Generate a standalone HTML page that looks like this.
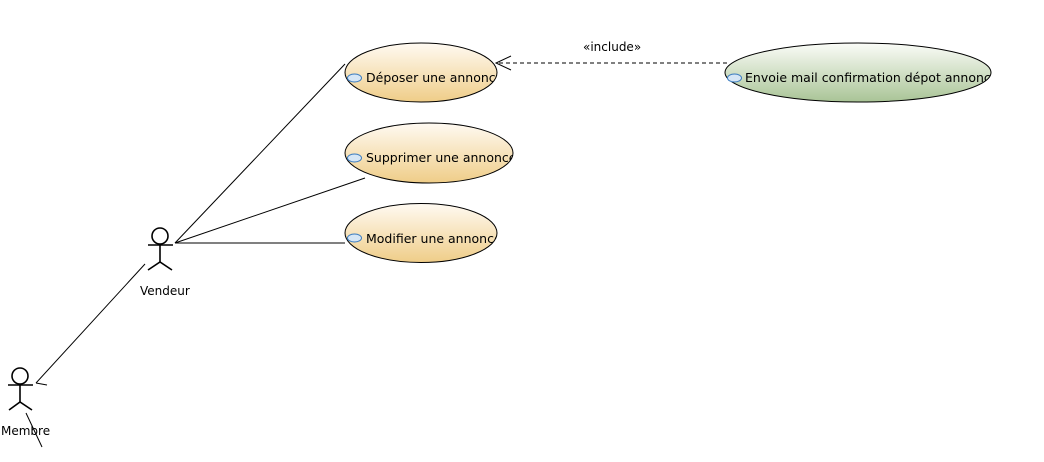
<!DOCTYPE html>
<html><head><meta charset="utf-8"><style>
html,body{margin:0;padding:0;background:#fff;width:1044px;height:462px;overflow:hidden}
text{font-family:"DejaVu Sans","Liberation Sans",sans-serif;font-size:12px;fill:#000}
text.uc{font-size:12.5px}
</style></head><body>
<svg width="1044" height="462" viewBox="0 0 1044 462" xmlns="http://www.w3.org/2000/svg">
<defs>
<linearGradient id="o" x1="0" y1="0" x2="0" y2="1"><stop offset="0" stop-color="#fffaf2"/><stop offset="1" stop-color="#efcd88"/></linearGradient>
<linearGradient id="g" x1="0" y1="0" x2="0" y2="1"><stop offset="0" stop-color="#fbfcf8"/><stop offset="1" stop-color="#a9c496"/></linearGradient>
<clipPath id="c1"><ellipse cx="421" cy="72.5" rx="76" ry="29.5"/></clipPath>
<clipPath id="c2"><ellipse cx="429" cy="153" rx="84" ry="30"/></clipPath>
<clipPath id="c3"><ellipse cx="421" cy="233" rx="76" ry="29.5"/></clipPath>
<clipPath id="c4"><ellipse cx="858" cy="72.5" rx="133" ry="29.5"/></clipPath>
</defs>
<g stroke="#000" stroke-width="1" fill="none">
<line x1="175" y1="243" x2="345" y2="64"/>
<line x1="175" y1="243" x2="365" y2="178"/>
<line x1="175" y1="243" x2="345" y2="243"/>
<line x1="145" y1="264" x2="36" y2="383"/>
<line x1="36" y1="383" x2="47" y2="385"/>
<line x1="26" y1="413" x2="42" y2="447"/>
<line x1="727" y1="63" x2="497" y2="63" stroke-dasharray="4,3"/>
<polyline points="511,56 496,63 511,70"/>
</g>
<text x="583" y="51">«include»</text>
<g stroke="#000" stroke-width="1">
<ellipse cx="421" cy="72.5" rx="76" ry="29.5" fill="url(#o)"/>
<ellipse cx="429" cy="153" rx="84" ry="30" fill="url(#o)"/>
<ellipse cx="421" cy="233" rx="76" ry="29.5" fill="url(#o)"/>
<ellipse cx="858" cy="72.5" rx="133" ry="29.5" fill="url(#g)"/>
</g>
<g fill="#d6e6f5" stroke="#3a7bc0" stroke-width="1">
<ellipse cx="354.5" cy="78" rx="7" ry="4"/>
<ellipse cx="354.5" cy="158" rx="7" ry="4"/>
<ellipse cx="354.5" cy="238" rx="7" ry="4"/>
<ellipse cx="734.5" cy="78" rx="7" ry="4"/>
</g>
<g clip-path="url(#c1)"><text class="uc" x="366" y="82">Déposer une annonce</text></g>
<g clip-path="url(#c2)"><text class="uc" x="366" y="162">Supprimer une annonce</text></g>
<g clip-path="url(#c3)"><text class="uc" x="366" y="243">Modifier une annonce</text></g>
<g clip-path="url(#c4)"><text class="uc" x="745" y="82">Envoie mail confirmation dépot annonce</text></g>
<g stroke="#000" stroke-width="1.6" fill="none">
<circle cx="160" cy="236" r="8"/>
<line x1="160" y1="244" x2="160" y2="262"/>
<line x1="148" y1="245" x2="173" y2="245"/>
<polyline points="148,270 160,262 172,270"/>
<circle cx="20" cy="376" r="8"/>
<line x1="20" y1="384" x2="20" y2="402"/>
<line x1="8" y1="385" x2="33" y2="385"/>
<polyline points="9,410 20,402 32,410"/>
</g>
<text x="140" y="295">Vendeur</text>
<text x="1" y="435">Membre</text>
</svg>
</body></html>
